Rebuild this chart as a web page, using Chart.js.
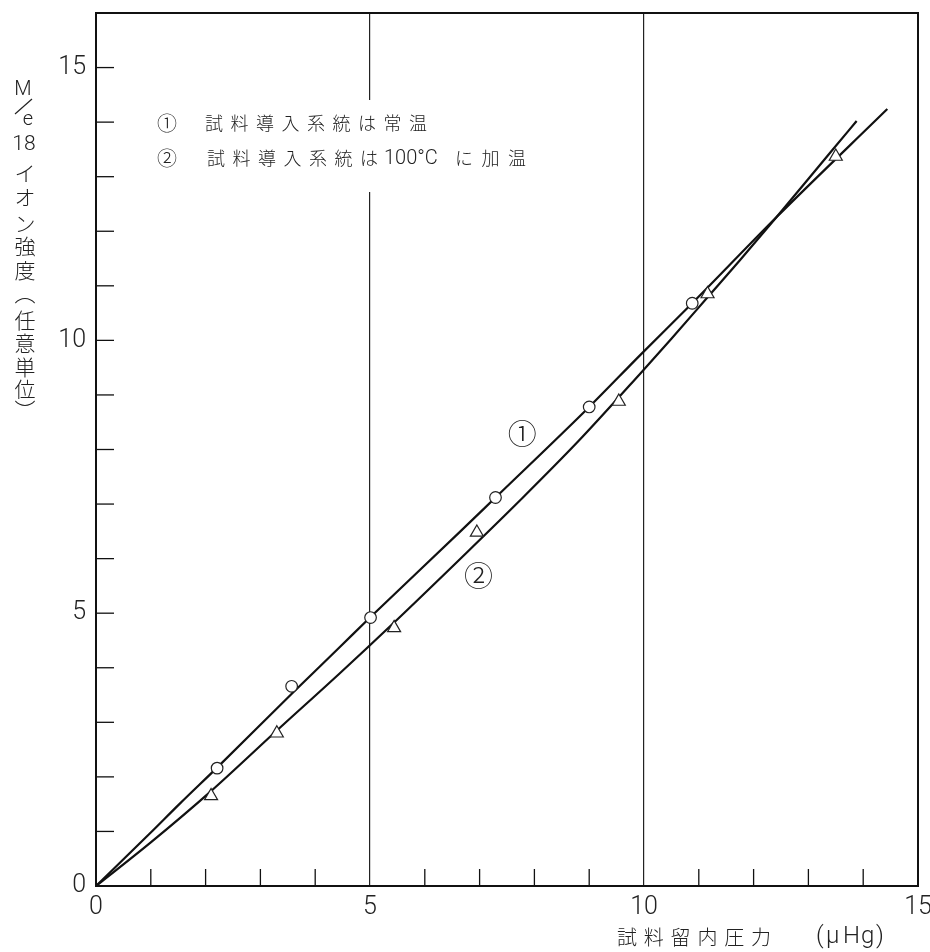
<!DOCTYPE html>
<html><head><meta charset="utf-8">
<script src="https://cdn.jsdelivr.net/npm/chart.js@4"></script>
<style>html,body{margin:0;padding:0;background:#fff}</style>
</head><body>
<canvas id="c" width="930" height="952"></canvas>
<script>
// ---- data ----
// series ① (circles): inlet system at room temperature
const circleX = [2.21, 3.57, 5.01, 7.29, 9.00, 10.88];
const circleY = [2.16, 3.66, 4.92, 7.12, 8.78, 10.68];
// series ② (triangles): inlet system heated to 100°C
const triX = [2.10, 3.30, 5.44, 6.95, 9.54, 11.16, 13.50];
const triY = [1.65, 2.80, 4.73, 6.48, 8.88, 10.85, 13.37];
// hand-drawn fitted curves
const curve1X = [0, 1.0, 1.53, 2.21, 3.6, 4.45, 5.01, 6.64, 7.29, 9.0, 9.93, 10.88, 12.42, 14.44];
const curve1Y = [0, 0.98, 1.51, 2.17, 3.55, 4.38, 4.93, 6.49, 7.12, 8.78, 9.73, 10.68, 12.26, 14.24];
const curve2X = [0, 1.0, 2.1, 3.3, 4.45, 5.44, 6.64, 7.74, 8.8, 9.93, 10.5, 11.16, 11.75, 12.42, 13.43, 13.88];
const curve2Y = [0, 0.80, 1.74, 2.85, 3.9, 4.83, 5.99, 7.07, 8.15, 9.39, 10.03, 10.79, 11.47, 12.26, 13.48, 14.02];
// curve labels placed in data units
const curveLabels = ['①', '②'];
const curveLabelX = [7.78, 6.98];
const curveLabelY = [8.28, 5.68];
// axes
const xMin = 0, xMax = 15, yMin = 0, yMax = 16;
const labeledTicks = [0, 5, 10, 15];
const xTitleMain = '試料留内圧力';
const xTitleUnit = ['(', 'μ', 'H', 'g', ')'];
const yTitleChars = ['イ','オ','ン','強','度','︵','任','意','単','位','︶'];
const legendLine1 = '試料導入系統は常温';
const legendLine2a = '試料導入系統は';
const legendLine2b = '100°C';
const legendLine2c = 'に加温';

const toPts = (xs, ys) => xs.map((x, i) => ({x, y: ys[i]}));
const CJK = "'Noto Sans CJK JP', 'Noto Sans CJK SC', sans-serif";
const NUM = "Roboto, 'Liberation Sans', sans-serif";

function spaced(ctx, text, x, y, adv) {
  [...text].forEach((ch, i) => ctx.fillText(ch, x + i * adv, y));
}

const decor = {
  id: 'decor',
  beforeDatasetsDraw(chart) {
    const {ctx, chartArea: a, scales: {x, y}} = chart;
    ctx.save();
    // legend area interrupts the gridline, as in the original
    ctx.fillStyle = '#fff';
    ctx.fillRect(150, 100, 390, 92);
    ctx.strokeStyle = '#111';
    ctx.lineWidth = 1.3;
    // inward tick marks
    for (let v = 1; v < yMax; v++) {
      const py = y.getPixelForValue(v);
      ctx.beginPath(); ctx.moveTo(a.left, py); ctx.lineTo(a.left + 18, py); ctx.stroke();
    }
    for (let v = 1; v < xMax; v++) {
      if (v % 5 === 0) continue;
      const px = x.getPixelForValue(v);
      ctx.beginPath(); ctx.moveTo(px, a.bottom); ctx.lineTo(px, a.bottom - 17); ctx.stroke();
    }
    // frame
    ctx.lineWidth = 2;
    ctx.strokeRect(a.left, a.top, a.right - a.left, a.bottom - a.top);
    ctx.restore();
  },
  afterDraw(chart) {
    const {ctx, chartArea: a, scales: {x, y}} = chart;
    ctx.save();
    ctx.fillStyle = '#222';
    ctx.textBaseline = 'middle';
    // legend text inside plot
    ctx.font = `300 20px ${CJK}`;
    ctx.textAlign = 'center';
    ctx.fillText('①', 167, 123);
    ctx.fillText('②', 167, 158);
    ctx.textAlign = 'left';
    ctx.font = `300 18px ${CJK}`;
    spaced(ctx, legendLine1, 205, 123, 25.5);
    spaced(ctx, legendLine2a, 207, 158, 25.5);
    ctx.font = `300 20px ${NUM}`;
    ctx.fillText(legendLine2b, 384, 159);
    ctx.font = `300 18px ${CJK}`;
    spaced(ctx, legendLine2c, 455, 158, 26.5);
    // curve labels
    ctx.font = `300 29px ${CJK}`;
    ctx.textAlign = 'center';
    curveLabels.forEach((t, i) => ctx.fillText(t, x.getPixelForValue(curveLabelX[i]), y.getPixelForValue(curveLabelY[i])));
    // x axis title
    ctx.textAlign = 'left';
    ctx.font = `300 20px ${CJK}`;
    spaced(ctx, xTitleMain, 617, 937, 26.8);
    ctx.font = `300 24px ${NUM}`;
    const ux = [816, 826, 843, 861, 876];
    xTitleUnit.forEach((ch, i) => ctx.fillText(ch, ux[i], 937));
    // y axis title (vertical)
    ctx.textAlign = 'center';
    ctx.font = `300 20px ${NUM}`;
    ctx.fillText('M', 23, 90);
    ctx.save();
    ctx.lineWidth = 1.2; ctx.strokeStyle = '#222';
    ctx.beginPath(); ctx.moveTo(15, 114); ctx.lineTo(32, 99); ctx.stroke();
    ctx.restore();
    ctx.fillText('e', 28, 120);
    ctx.font = `300 21px ${NUM}`;
    ctx.fillText('18', 24, 145);
    ctx.font = `300 21px ${CJK}`;
    const ys = [173, 197, 223, 246, 270, 293, 320, 343, 367, 389, 410];
    yTitleChars.forEach((ch, i) => ctx.fillText(ch, 25, ys[i]));
    ctx.restore();
  }
};

new Chart(document.getElementById('c'), {
  type: 'scatter',
  data: {
    datasets: [
      {data: toPts(curve1X, curve1Y), showLine: true, borderColor: '#111', borderWidth: 2.2, pointRadius: 0, cubicInterpolationMode: 'monotone', order: 3},
      {data: toPts(curve2X, curve2Y), showLine: true, borderColor: '#111', borderWidth: 2.2, pointRadius: 0, cubicInterpolationMode: 'monotone', order: 4},
      {data: toPts(circleX, circleY), pointStyle: 'circle', pointRadius: 5.8, backgroundColor: '#fff', borderColor: '#222', borderWidth: 1.2, order: 1},
      {data: toPts(triX, triY), pointStyle: 'triangle', pointRadius: 7.5, backgroundColor: '#fff', borderColor: '#222', borderWidth: 1.2, order: 2}
    ]
  },
  options: {
    responsive: false,
    animation: false,
    devicePixelRatio: 1,
    layout: {padding: {left: 0, right: 12, top: 13, bottom: 0}},
    plugins: {legend: {display: false}, tooltip: {enabled: false}},
    scales: {
      x: {
        type: 'linear', min: xMin, max: xMax,
        afterFit(s) { s.height = 66; s.paddingLeft = 0; s.paddingRight = 0; },
        border: {display: false},
        grid: {
          drawTicks: false,
          lineWidth: 1.2,
          color: c => (c.tick && (c.tick.value === 5 || c.tick.value === 10)) ? '#222' : 'rgba(0,0,0,0)'
        },
        ticks: {
          stepSize: 1, autoSkip: false, maxRotation: 0, padding: 7,
          color: '#222', font: {family: NUM, size: 25, weight: 300},
          callback: v => labeledTicks.includes(v) ? String(v) : null
        }
      },
      y: {
        type: 'linear', min: yMin, max: yMax,
        afterFit(s) { s.width = 96; s.paddingTop = 0; s.paddingBottom = 0; },
        border: {display: false},
        grid: {display: false, drawTicks: false},
        ticks: {
          stepSize: 1, autoSkip: false, padding: 10,
          color: '#222', font: {family: NUM, size: 25, weight: 300},
          callback: v => labeledTicks.includes(v) ? String(v) : null
        }
      }
    }
  },
  plugins: [decor]
});
</script>
</body></html>
